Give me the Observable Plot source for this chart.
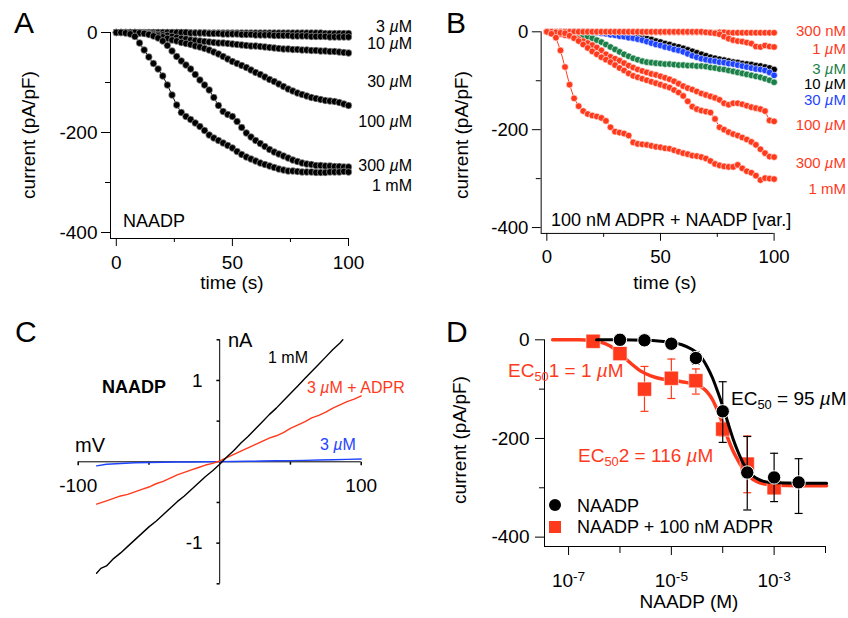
<!DOCTYPE html>
<html><head><meta charset="utf-8">
<script src="https://cdn.jsdelivr.net/npm/d3@7"></script>
<script src="https://cdn.jsdelivr.net/npm/@observablehq/plot@0.6"></script>
<style>
html,body{margin:0;padding:0;background:#fff;}
#fig{position:relative;width:848px;height:618px;overflow:hidden;font-family:"Liberation Sans",Arial,Helvetica,sans-serif;color:#000;}
.panel{position:absolute;}
.panel svg{overflow:visible;}
.lbl{position:absolute;white-space:nowrap;line-height:1;}
.sub{position:relative;top:0.32em;font-size:0.68em;}
.sym{position:absolute;}
</style></head><body><div id="fig"></div>
<script>
// ---------- DATA ----------
const times = [0,2,4,6,8,10,12,14,16,18,20,22,24,26,28,30,32,34,36,38,40,42,44,46,48,50,52,54,56,58,60,62,64,66,68,70,72,74,76,78,80,82,84,86,88,90,92,94,96,98,100];

// Panel A: NAADP alone (pA/pF)
const a3uM   = [0,0,0,0,0,0,0,0,0,0, 0,0,0,0,0,0,-1,-1,-1,-1, -1,-1,-1,-1,-1,-1,-1,-1,-1,-1, -1,-1,-1,-1,-1,-1,-1,-1,-1,-1, -1,-1,-1,-1,-1,-2,-2,-2,-2,-2, -2];
const a10uM  = [0,0,0,0,0,0,0,0,0,0, 0,0,0,0,0,0,-1,-1,-1,-1, -2,-2,-2,-3,-3,-3,-3,-4,-4,-4, -5,-5,-5,-5,-6,-6,-6,-6,-7,-7, -7,-7,-8,-8,-8,-8,-9,-9,-9,-9, -9];
const a30uM  = [0,0,0,0,0,-1,-1,-2,-3,-4, -5,-6,-8,-10,-12,-13,-15,-16,-17,-18, -19,-20,-21,-21,-22,-23,-24,-25,-26,-27, -27,-28,-29,-30,-31,-32,-33,-33,-34,-34, -35,-35,-36,-36,-37,-37,-38,-38,-39,-40, -41];
const a100uM = [0,0,0,0,0,-1,-2,-3,-5,-7, -9,-12,-15,-17,-20,-22,-24,-27,-29,-32, -35,-39,-43,-48,-53,-58,-62,-66,-70,-75, -80,-84,-89,-94,-98,-103,-108,-113,-117,-121, -124,-127,-130,-132,-134,-136,-137,-138,-140,-143, -146];
const a300uM = [0,0,0,0,0,-1,-2,-4,-7,-11, -17,-26,-37,-48,-57,-65,-73,-84,-95,-105, -115,-130,-146,-158,-164,-168,-178,-190,-201,-209, -216,-222,-228,-234,-239,-243,-247,-251,-255,-258, -261,-263,-264,-266,-266,-267,-267,-268,-268,-269, -269];
const a1mM   = [0,0,-1,-3,-8,-21,-35,-49,-62,-73, -87,-105,-125,-145,-160,-168,-174,-181,-188,-196, -205,-211,-216,-221,-226,-231,-238,-244,-249,-253, -257,-261,-264,-267,-270,-273,-275,-277,-277,-278, -279,-279,-279,-280,-280,-280,-279,-279,-279,-278, -279];

// Panel B: 100 nM ADPR + NAADP (pA/pF)
const b300nM = [0,0,0,0,0,0,0,0,0,0, 0,0,0,0,0,0,0,0,0,0, 0,-1,-1,-1,-1,-1,-1,-1,-1,-1, -1,-1,-1,-1,-1,-1,-1,-2,-1,-1, -2,-2,-2,-2,-2,-2,-2,-2,-2,-2, -2];
const b1uM   = [0,0,0,0,0,0,0,0,0,0, 0,0,0,0,0,0,0,0,0,0, 0,0,0,0,0,0,0,0,0,0, 0,0,0,0,0,-1,-2,-3,-5,-10, -14,-17,-19,-20,-22,-24,-30,-31,-28,-30, -31];
const b3uM   = [0,0,-1,-2,-3,-3,-5,-6,-8,-10, -13,-17,-21,-26,-31,-36,-41,-46,-50,-54, -57,-60,-62,-63,-64,-65,-66,-66,-67,-68, -68,-69,-69,-70,-70,-71,-73,-74,-76,-77, -79,-81,-83,-85,-87,-89,-91,-93,-96,-99, -103];
const b10uM  = [0,0,0,0,0,0,0,0,0,0, -1,-1,-2,-3,-4,-5,-6,-7,-8,-9, -10,-12,-14,-16,-19,-21,-24,-26,-29,-31, -34,-37,-40,-43,-46,-49,-52,-54,-56,-58, -60,-62,-63,-65,-66,-67,-69,-70,-72,-74, -77];
const b30uM  = [0,0,0,0,0,0,0,0,0,0, -1,-2,-3,-4,-6,-7,-9,-10,-12,-13, -15,-17,-20,-23,-26,-28,-31,-33,-36,-38, -41,-45,-49,-52,-55,-57,-59,-60,-62,-63, -65,-66,-68,-70,-72,-74,-76,-77,-79,-83, -89];
const b100uM = [0,-1,-3,-5,-7,-9,-12,-15,-19,-23, -27,-32,-38,-46,-51,-55,-59,-64,-69,-73, -77,-80,-83,-86,-88,-91,-94,-97,-101,-106, -111,-115,-118,-122,-126,-129,-132,-135,-139,-146, -149,-146,-146,-148,-151,-154,-156,-158,-162,-181, -183];
const b300uM = [0,0,-1,-2,-3,-8,-13,-19,-26,-33, -40,-46,-52,-57,-62,-68,-74,-79,-85,-90, -93,-96,-99,-102,-105,-108,-111,-114,-119,-124, -131,-142,-153,-158,-161,-163,-165,-178,-195,-200, -205,-209,-212,-216,-220,-225,-231,-240,-248,-255, -256];
const b1mM   = [0,-4,-12,-38,-72,-108,-136,-152,-162,-168, -171,-173,-176,-182,-195,-204,-206,-208,-212,-226, -229,-230,-231,-233,-235,-236,-238,-239,-242,-245, -248,-250,-253,-254,-256,-259,-264,-270,-273,-275, -276,-276,-272,-279,-285,-288,-294,-303,-299,-300, -301];

// Panel C: I-V ramps (mV, nA)
const ivBlackV = [-87,-84,-80,-75,-70,-65,-60,-55,-50,-45,-40,-35,-30,-25,-20,-15,-10,-5,0,5,10,15,20,25,30,35,40,45,50,55,60,65,70,75,80,85,87];
const ivBlackI = [-1.37,-1.31,-1.28,-1.19,-1.12,-1.04,-0.96,-0.88,-0.80,-0.73,-0.65,-0.57,-0.49,-0.42,-0.34,-0.26,-0.18,-0.11,-0.03,0.06,0.14,0.23,0.31,0.40,0.49,0.58,0.66,0.75,0.84,0.93,1.02,1.11,1.20,1.29,1.38,1.46,1.50];
const ivRedV = [-87,-80,-75,-70,-65,-60,-55,-50,-45,-40,-35,-30,-25,-20,-15,-10,-5,0,5,10,15,20,25,30,35,40,45,50,55,60,65,70,75,80,85,90,95,100];
const ivRedI = [-0.52,-0.48,-0.45,-0.42,-0.40,-0.37,-0.34,-0.31,-0.27,-0.24,-0.20,-0.16,-0.13,-0.10,-0.07,-0.04,-0.02,0.01,0.05,0.09,0.13,0.17,0.21,0.25,0.29,0.32,0.36,0.41,0.45,0.49,0.54,0.57,0.61,0.66,0.70,0.74,0.77,0.81];
const ivBlueV = [-87,-80,-70,-60,-50,-40,-30,-20,-10,0,10,20,30,40,50,60,70,80,90,100];
const ivBlueI = [-0.05,-0.03,-0.02,-0.012,-0.008,-0.005,-0.003,-0.002,0,0.002,0.004,0.006,0.009,0.012,0.015,0.018,0.022,0.026,0.03,0.034];
const ivTicksX = [-100,-50,50,100];
const ivTickLabelsX = [-100,100];
const ivTicksY = [1.5,1,0.5,-0.5,-1,-1.5];
const ivTickLabelsY = [1,-1];

// Panel D: dose-response (M, pA/pF)
const naadpConc = [1e-6,3e-6,1e-5,3e-5,1e-4,3e-4,1e-3,3e-3];
const naadpMean = [0,-1,-8,-37,-145,-269,-279,-289];
const naadpLo   = [null,null,null,-49,-208,-345,-328,-352];
const naadpHi   = [null,null,null,-25,-85,-196,-230,-241];
const adprConc = [3e-7,1e-6,3e-6,1e-5,3e-5,1e-4,3e-4,1e-3];
const adprMean = [-3,-28,-100,-78,-83,-181,-252,-300];
const adprLo   = [null,null,-145,-119,-110,-195,-310,-310];
const adprHi   = [null,null,-54,-39,-59,-167,-195,-289];
const fitBlackX = [3.5e-7,1e-6,3.2e-6,6.3e-6,1e-5,1.6e-5,2.5e-5,3.2e-5,4e-5,5e-5,6.3e-5,7.9e-5,1e-4,1.26e-4,1.58e-4,2e-4,2.5e-4,3.2e-4,4e-4,5e-4,6.3e-4,1e-3,3.2e-3,1.05e-2];
const fitBlackY = [0,0,-1,-3,-5,-10,-19,-27,-38,-55,-77,-104,-135,-168,-200,-228,-250,-266,-277,-283,-287,-290,-291,-291];
const fitRedX = [4.9e-8,1.6e-7,2.75e-7,4e-7,6.3e-7,1e-6,1.6e-6,2.5e-6,4e-6,6.3e-6,1e-5,1.6e-5,2.5e-5,4e-5,5e-5,6.3e-5,7.9e-5,1e-4,1.26e-4,1.58e-4,2e-4,2.5e-4,3.2e-4,4e-4,5e-4,6.3e-4,1e-3,3.2e-3,1.05e-2];
const fitRedY = [0,0,-1,-4,-12,-28,-47,-63,-73,-79,-82,-85,-89,-97,-106,-121,-143,-170,-200,-225,-245,-262,-275,-284,-289,-292,-295,-296,-296];

// scales / ticks
const timeDomain = [-2.5, 100];
const currentDomain = [-412, 0];
const timeTicksMajor = [0,50,100], timeTicksMinor = [25,75];
const currentTicksMajor = [0,-200,-400], currentTicksMinor = [-100,-300];
const ivXDomain = [-100,100], ivYDomain = [-1.5,1.5];
const concDomain = [3.4e-8, 1e-2];
const drDomain = [-419, 0];
const concTicksMajor = [1e-7,1e-5,1e-3], concTicksMinor = [1e-6,1e-4,1e-2];

// ---------- DRAWING ----------
const FONT = '"Liberation Sans", Arial, Helvetica, sans-serif';
const RED = "#ff3a1c", GREEN = "#1b7f48", BLUE = "#1f44ff";
const fig = document.getElementById("fig");
const baseStyle = {fontFamily: FONT, fontSize: "19px", background: "transparent", overflow: "visible", color: "black"};

function place(svg, left, top) {
  const d = document.createElement("div");
  d.className = "panel"; d.style.left = left + "px"; d.style.top = top + "px";
  d.appendChild(svg); fig.appendChild(d); return svg;
}
function addText(html, x, y, o = {}) {
  const d = document.createElement("div");
  d.className = "lbl";
  d.style.left = x + "px"; d.style.top = y + "px";
  d.style.fontSize = (o.size || 16) + "px"; d.style.color = o.color || "#000";
  d.style.fontWeight = o.weight || "normal";
  const a = o.anchor || "l";
  d.style.transform = o.rotate ? "translate(-50%,-50%) rotate(-90deg)" : a === "c" ? "translate(-50%,-50%)" : a === "r" ? "translate(-100%,-50%)" : "translate(0,-50%)";
  d.innerHTML = html; fig.appendChild(d);
}
const lineSym = (dx, dy, sym) => ({draw(ctx, size) { const l = Math.sqrt(size / Math.PI); if (sym) { ctx.moveTo(-l, 0); ctx.lineTo(l, 0); } else { ctx.moveTo(0, 0); ctx.lineTo(dx * l, dy * l); } }});
const capSym = lineSym(0, 0, true), tickDown = lineSym(0, 1), tickLeft = lineSym(-1, 0);

function timePanel(series) {
  const marks = [
    Plot.ruleX([timeDomain[0]], {y1: currentDomain[0], y2: currentDomain[1]}),
    Plot.ruleY([currentDomain[0]], {x1: timeDomain[0], x2: timeDomain[1]}),
    Plot.axisY({ticks: currentTicksMajor, tickSize: 9, tickPadding: 4, tickFormat: d => String(d), label: null}),
    Plot.axisY({ticks: currentTicksMinor, tickSize: 5, tickFormat: () => "", label: null}),
    Plot.axisX({ticks: timeTicksMajor, tickSize: 8, tickPadding: 9, tickFormat: d => String(d), label: null}),
    Plot.axisX({ticks: timeTicksMinor, tickSize: 4, tickFormat: () => "", label: null})
  ];
  for (const s of series) {
    const rows = times.map((t, i) => ({t, v: s.values[i]}));
    marks.push(Plot.line(rows, {x: "t", y: "v", stroke: s.color, strokeWidth: 1}));
    marks.push(Plot.dot(rows, {x: "t", y: "v", r: 3.4, fill: s.color, stroke: s.halo, strokeWidth: 0.6}));
  }
  return Plot.plot({width: 424, height: 300, marginLeft: 110, marginRight: 76, marginTop: 32, marginBottom: 62,
    x: {domain: timeDomain}, y: {domain: currentDomain}, style: baseStyle, marks});
}

// Panel A
place(timePanel([
  {values: a3uM, color: "black", halo: "#bbb"},
  {values: a10uM, color: "black", halo: "#bbb"},
  {values: a30uM, color: "black", halo: "#bbb"},
  {values: a100uM, color: "black", halo: "#bbb"},
  {values: a300uM, color: "black", halo: "#bbb"},
  {values: a1mM, color: "black", halo: "#bbb"}
]), 0, 0);

// Panel B
place(timePanel([
  {values: b10uM, color: "black", halo: "white"},
  {values: b30uM, color: BLUE, halo: "white"},
  {values: b3uM, color: GREEN, halo: "white"},
  {values: b300nM, color: RED, halo: "white"},
  {values: b1uM, color: RED, halo: "white"},
  {values: b100uM, color: RED, halo: "white"},
  {values: b300uM, color: RED, halo: "white"},
  {values: b1mM, color: RED, halo: "white"}
]), 433, 0);

// Panel C
const ivRows = (V, I) => V.map((v, i) => ({v, i: I[i]}));
place(Plot.plot({width: 424, height: 318, marginLeft: 77.7, marginRight: 63.3, marginTop: 39.3, marginBottom: 34.7,
  x: {domain: ivXDomain, axis: null}, y: {domain: ivYDomain, axis: null}, style: baseStyle,
  marks: [
    Plot.ruleY([0]),
    Plot.ruleX([0]),
    Plot.dot(ivTicksX, {x: d => d, y: 0, symbol: tickDown, r: d => Math.abs(d) === 100 ? 7 : 5, fill: "none", stroke: "black"}),
    Plot.dot(ivTicksY, {x: 0, y: d => d, symbol: tickLeft, r: d => Math.abs(d) === 1 ? 7 : 6, fill: "none", stroke: "black"}),
    Plot.text(ivTickLabelsX, {x: d => d, y: 0, text: d => String(d), dy: 24, fontSize: 19}),
    Plot.text(ivTickLabelsY, {x: 0, y: d => d, text: d => String(d), dx: -17, textAnchor: "end", fontSize: 19}),
    Plot.line(ivRows(ivBlueV, ivBlueI), {x: "v", y: "i", stroke: BLUE, strokeWidth: 1.4}),
    Plot.line(ivRows(ivRedV, ivRedI), {x: "v", y: "i", stroke: RED, strokeWidth: 1.4}),
    Plot.line(ivRows(ivBlackV, ivBlackI), {x: "v", y: "i", stroke: "black", strokeWidth: 1.4})
  ]}), 0, 300);

// Panel D
const drRows = (C, M, L, H) => C.map((c, k) => ({c, m: M[k], lo: L[k], hi: H[k]}));
const blackPts = drRows(naadpConc, naadpMean, naadpLo, naadpHi);
const redPts = drRows(adprConc, adprMean, adprLo, adprHi);
const blackErr = blackPts.filter(d => d.lo != null), redErr = redPts.filter(d => d.lo != null);
const fitRows = (X, Y) => X.map((c, k) => ({c, v: Y[k]}));
const svgD = place(Plot.plot({width: 424, height: 318, marginLeft: 120, marginRight: 23, marginTop: 39.3, marginBottom: 72,
  x: {type: "log", domain: concDomain}, y: {domain: drDomain}, style: baseStyle,
  marks: [
    Plot.ruleX([concDomain[0]], {y1: drDomain[0], y2: drDomain[1]}),
    Plot.ruleY([drDomain[0]], {x1: concDomain[0], x2: concDomain[1]}),
    Plot.axisY({ticks: currentTicksMajor, tickSize: 9, tickPadding: 6, tickFormat: d => String(d), label: null}),
    Plot.axisY({ticks: currentTicksMinor, tickSize: 5, tickFormat: () => "", label: null}),
    Plot.axisX({ticks: concTicksMajor, tickSize: 9, tickPadding: 18, tickFormat: d => "10^" + Math.round(Math.log10(d)), label: null}),
    Plot.axisX({ticks: concTicksMinor, tickSize: 7, tickFormat: () => "", label: null}),
    Plot.line(fitRows(fitRedX, fitRedY), {x: "c", y: "v", stroke: RED, strokeWidth: 3.5, curve: "monotone-x"}),
    Plot.ruleX(redErr, {x: "c", y1: "lo", y2: "hi", stroke: RED, strokeWidth: 1.2}),
    Plot.dot(redErr, {x: "c", y: "lo", symbol: capSym, r: 4, fill: "none", stroke: RED, strokeWidth: 1.2}),
    Plot.dot(redErr, {x: "c", y: "hi", symbol: capSym, r: 4, fill: "none", stroke: RED, strokeWidth: 1.2}),
    Plot.dot(redPts, {x: "c", y: "m", symbol: "square", r: 8, fill: RED, stroke: "white", strokeWidth: 0.6}),
    Plot.line(fitRows(fitBlackX, fitBlackY), {x: "c", y: "v", stroke: "black", strokeWidth: 3, curve: "monotone-x"}),
    Plot.ruleX(blackErr, {x: "c", y1: "lo", y2: "hi", stroke: "black", strokeWidth: 1.2}),
    Plot.dot(blackErr, {x: "c", y: "lo", symbol: capSym, r: 4, fill: "none", stroke: "black", strokeWidth: 1.2}),
    Plot.dot(blackErr, {x: "c", y: "hi", symbol: capSym, r: 4, fill: "none", stroke: "black", strokeWidth: 1.2}),
    Plot.dot(blackPts, {x: "c", y: "m", r: 6.7, fill: "black", stroke: "white", strokeWidth: 1})
  ]}), 424, 300);
svgD.querySelectorAll("text").forEach(t => {
  const m = /^10\^(-?\d+)$/.exec(t.textContent);
  if (m) {
    t.textContent = "10";
    const ts = document.createElementNS("http://www.w3.org/2000/svg", "tspan");
    ts.setAttribute("dy", "-0.45em"); ts.setAttribute("font-size", "0.72em");
    ts.textContent = m[1]; t.appendChild(ts);
  }
});

// ---------- TEXT ----------
const mu = "<i>µ</i>";
addText("A", 14, 23, {size: 30}); addText("B", 446, 23, {size: 30});
addText("C", 15, 332, {size: 30}); addText("D", 446, 332, {size: 30});
addText("current (pA/pF)", 28, 135, {size: 19, rotate: true});
addText("time (s)", 232, 282, {size: 19, anchor: "c"});
addText("current (pA/pF)", 461, 135, {size: 19, rotate: true});
addText("time (s)", 665, 282, {size: 19, anchor: "c"});
addText("current (pA/pF)", 459, 440, {size: 19, rotate: true});
addText("NAADP (M)", 689, 601, {size: 19, anchor: "c"});
// A labels
addText("3 " + mu + "M", 412, 27, {anchor: "r"});
addText("10 " + mu + "M", 412, 44, {anchor: "r"});
addText("30 " + mu + "M", 412, 82, {anchor: "r"});
addText("100 " + mu + "M", 412, 122, {anchor: "r"});
addText("300 " + mu + "M", 412, 166, {anchor: "r"});
addText("1 mM", 412, 186, {anchor: "r"});
addText("NAADP", 123, 221, {size: 18});
// B labels
addText("300 nM", 846, 30, {anchor: "r", color: RED, size: 15});
addText("1 " + mu + "M", 846, 48, {anchor: "r", color: RED, size: 15});
addText("3 " + mu + "M", 846, 67.5, {anchor: "r", color: GREEN, size: 15});
addText("10 " + mu + "M", 846, 83, {anchor: "r", size: 15});
addText("30 " + mu + "M", 846, 98.5, {anchor: "r", color: BLUE, size: 15});
addText("100 " + mu + "M", 846, 124, {anchor: "r", color: RED, size: 15});
addText("300 " + mu + "M", 846, 162, {anchor: "r", color: RED, size: 15});
addText("1 mM", 846, 188, {anchor: "r", color: RED, size: 15});
addText("100 nM ADPR + NAADP [var.]", 551, 220, {size: 18});
// C labels
addText("nA", 228, 340, {size: 20});
addText("mV", 75, 445, {size: 20});
addText("NAADP", 102, 387, {size: 18, weight: "bold"});
addText("1 mM", 268, 358, {size: 16});
addText("3 " + mu + "M + ADPR", 307, 388, {size: 16, color: RED});
addText("3 " + mu + "M", 320, 445, {size: 16, color: BLUE});
// D labels
addText('EC<span class="sub">50</span>1 = 1 ' + mu + "M", 508, 370, {size: 19, color: RED});
addText('EC<span class="sub">50</span> = 95 ' + mu + "M", 731, 398, {size: 19});
addText('EC<span class="sub">50</span>2 = 116 ' + mu + "M", 578, 455, {size: 19, color: RED});
addText("NAADP", 577, 506, {size: 18});
addText("NAADP + 100 nM ADPR", 577, 527, {size: 18});
const s1 = document.createElement("div"); s1.className = "sym";
Object.assign(s1.style, {left: "549px", top: "499px", width: "12px", height: "12px", borderRadius: "50%", background: "black"});
const s2 = document.createElement("div"); s2.className = "sym";
Object.assign(s2.style, {left: "549px", top: "521px", width: "12px", height: "12px", background: RED});
fig.appendChild(s1); fig.appendChild(s2);
</script></body></html>
